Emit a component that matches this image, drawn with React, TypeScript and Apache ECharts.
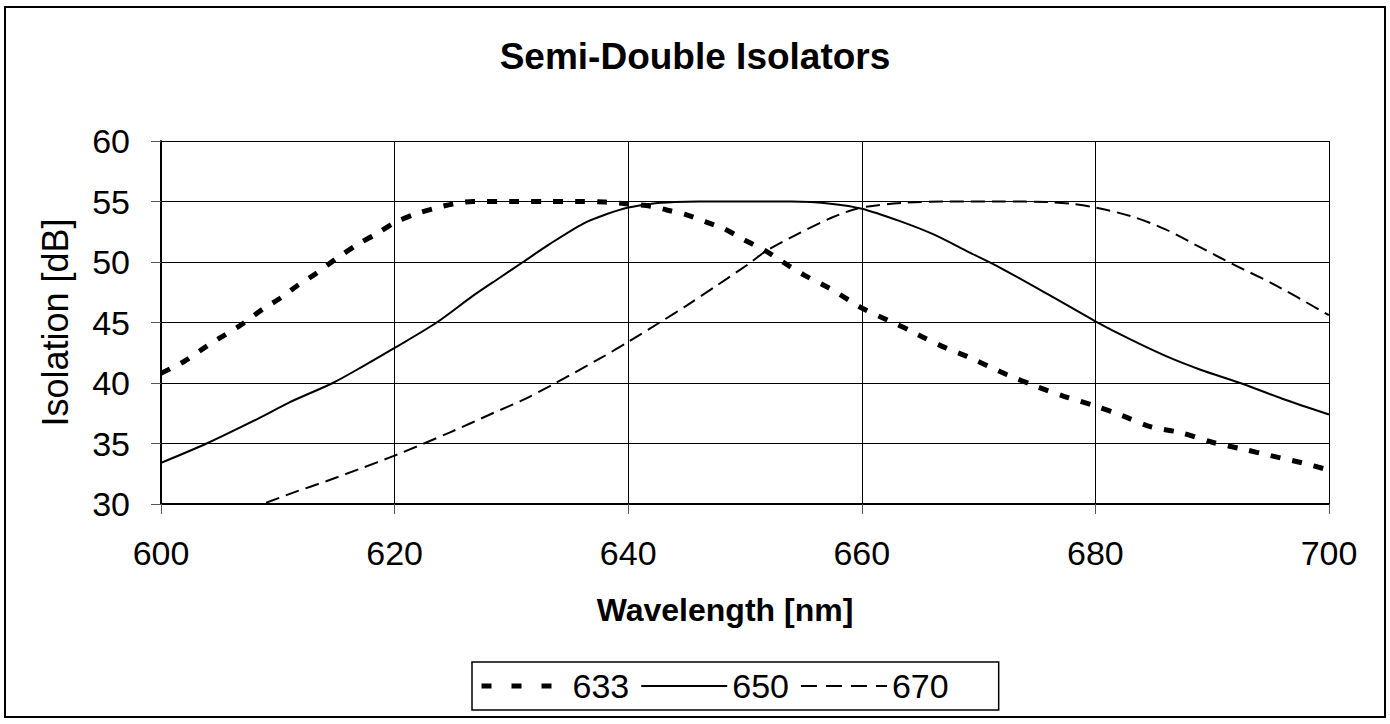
import React, { useEffect, useRef } from "react";
import * as echarts from "echarts";

const titleText = "Semi-Double Isolators";
const xAxisName = "Wavelength [nm]";
const yAxisName = "Isolation [dB]";
const seriesNames = ["633", "650", "670"];

const s633: [number, number][] = [
  [600, 40.8], [602, 41.8], [603.7, 42.9], [605, 43.7], [607, 44.9], [608.7, 46.1],
  [610.2, 47.0], [611.6, 48.0], [613.2, 49.0], [614.9, 50.2], [616.9, 51.5], [618.4, 52.3],
  [620.1, 53.3], [621.9, 54.0], [623.3, 54.4], [625, 54.8], [626.7, 55], [630, 55],
  [633, 55], [636, 55], [638, 54.95], [640, 54.8], [642, 54.6], [643.3, 54.3], [645, 53.9],
  [646.7, 53.3], [648.3, 52.7], [650, 51.8], [651.8, 50.9], [653.4, 49.9], [655.1, 48.9],
  [657.1, 47.9], [658.8, 46.9], [660, 46.2], [662.2, 45.2], [664, 44.4], [665.2, 43.8],
  [667.2, 42.9], [669, 42.2], [672.4, 40.7], [675, 39.7], [677.3, 38.9], [680, 38.1],
  [682.3, 37.3], [684.7, 36.4], [687.3, 35.9], [690, 35.1], [692.8, 34.5], [695, 34.0],
  [697.7, 33.4], [700, 32.8],
];

const s650: [number, number][] = [
  [600, 33.4], [603.9, 35.0], [608.4, 37.1], [611, 38.4], [614.7, 40.0], [617.5, 41.5],
  [620, 42.9], [623.6, 45.0], [626.7, 47.2], [629, 48.7], [631, 50.0], [633.3, 51.5],
  [636.2, 53.2], [638, 53.9], [640, 54.5], [641.9, 54.8], [644, 54.95],
  [646, 55], [650, 55], [654, 55], [657.5, 54.8], [660, 54.4], [663.2, 53.4], [666.1, 52.3],
  [669.2, 50.8], [671.9, 49.5], [676, 47.3], [680, 45.1], [683, 43.6], [686.1, 42.2],
  [689, 41.1], [692.4, 40.0], [696, 38.7], [700, 37.4],
];

const s670: [number, number][] = [
  [609, 30.1], [611.5, 31.0], [614.2, 31.9], [617, 32.9], [620, 34.0], [624.7, 35.9],
  [628.4, 37.5], [631, 38.6], [633.6, 39.9], [637.9, 42.2], [640, 43.4], [642.7, 45.0],
  [645, 46.4], [647.5, 48.0], [650.4, 49.9], [651.8, 50.9], [654.7, 52.4], [657.5, 53.7],
  [660, 54.5], [663.8, 54.9], [667.5, 55], [672, 55], [676, 54.95], [678, 54.8],
  [680, 54.5], [683, 53.8], [686, 52.7], [689, 51.2], [691.8, 49.8], [695.2, 48.2],
  [700, 45.6],
];

const FONT = "'Liberation Sans', Arial, sans-serif";

const dash633 = [10, 12];
const dash670 = [14, 7];

export default function App() {
  const ref = useRef<HTMLDivElement>(null);
  useEffect(() => {
    if (!ref.current) return;
    const chart = echarts.init(ref.current, undefined, { renderer: "svg" });
    chart.setOption({
      animation: false,
      backgroundColor: "#ffffff",
      title: {
        text: titleText,
        left: "center",
        top: 33,
        textStyle: { fontFamily: FONT, fontSize: 37, fontWeight: "bold", color: "#000" },
      },
      grid: { left: 161, top: 141, width: 1168, height: 363, containLabel: false },
      xAxis: {
        type: "value",
        min: 600,
        max: 700,
        interval: 20,
        axisLine: { show: true, onZero: false, lineStyle: { color: "#000", width: 2 } },
        axisTick: { show: true, inside: false, length: 10, lineStyle: { color: "#555", width: 1 } },
        axisLabel: { margin: 32, fontFamily: FONT, fontSize: 34, color: "#000" },
        splitLine: { show: true, lineStyle: { color: "#000", width: 1 } },
      },
      yAxis: {
        type: "value",
        min: 30,
        max: 60,
        interval: 5,
        name: yAxisName,
        nameLocation: "middle",
        nameGap: 88,
        nameTextStyle: { fontFamily: FONT, fontSize: 36, color: "#000" },
        axisLine: { show: true, lineStyle: { color: "#000", width: 2 } },
        axisTick: { show: true, inside: false, length: 10, lineStyle: { color: "#555", width: 1 } },
        axisLabel: { margin: 31, fontFamily: FONT, fontSize: 34, color: "#000" },
        splitLine: { show: true, lineStyle: { color: "#000", width: 1 } },
      },
      legend: {
        data: [
          { name: seriesNames[0], itemStyle: { opacity: 0 }, lineStyle: { width: 5, type: [10, 20], color: "#000" } },
          { name: seriesNames[1], itemStyle: { opacity: 0 }, lineStyle: { width: 2, type: "solid", color: "#000" } },
          { name: seriesNames[2], itemStyle: { opacity: 0 }, lineStyle: { width: 2, type: [16, 9], color: "#000" } },
        ],
        left: 472,
        top: 662,
        orient: "horizontal",
        itemWidth: 86,
        itemHeight: 14,
        itemGap: 11,
        padding: [7, 50, 7, 7],
        borderColor: "#000",
        borderWidth: 1.5,
        textStyle: { fontFamily: FONT, fontSize: 34, color: "#000" },
      },
      graphic: [
        {
          type: "rect",
          shape: { x: 5, y: 7, width: 1380, height: 710 },
          style: { fill: "none", stroke: "#000", lineWidth: 2 },
          silent: true,
        },
        {
          type: "text",
          x: 725,
          y: 610,
          style: {
            text: xAxisName,
            fontFamily: FONT,
            fontSize: 32,
            fontWeight: "bold",
            fill: "#000",
            align: "center",
            verticalAlign: "middle",
          },
        },
      ],
      series: [
        {
          name: seriesNames[0],
          type: "line",
          data: s633,
          showSymbol: false,
          symbol: "none",
          smooth: 0.3,
          lineStyle: { color: "#000", width: 5, type: dash633 },
          itemStyle: { color: "#000" },
        },
        {
          name: seriesNames[1],
          type: "line",
          data: s650,
          showSymbol: false,
          symbol: "none",
          smooth: 0.3,
          lineStyle: { color: "#000", width: 2, type: "solid" },
          itemStyle: { color: "#000" },
        },
        {
          name: seriesNames[2],
          type: "line",
          data: s670,
          showSymbol: false,
          symbol: "none",
          smooth: 0.3,
          lineStyle: { color: "#000", width: 2, type: dash670 },
          itemStyle: { color: "#000" },
        },
      ],
    });
    return () => chart.dispose();
  }, []);
  return (
    <div
      ref={ref}
      style={{ position: "absolute", left: 0, top: 0, width: 1390, height: 724, background: "#fff" }}
    />
  );
}
